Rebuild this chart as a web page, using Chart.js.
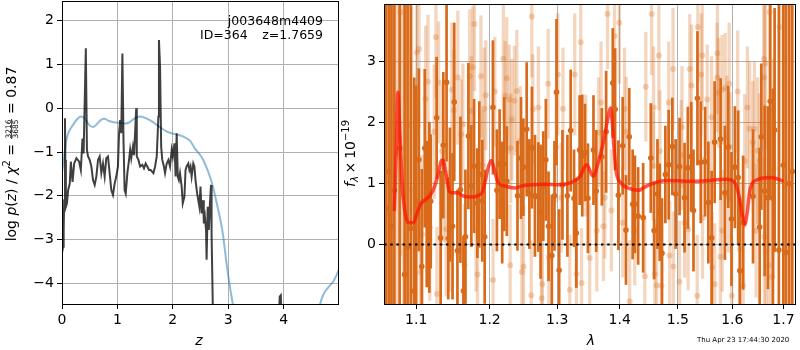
<!DOCTYPE html>
<html><head><meta charset="utf-8">
<script src="https://cdn.jsdelivr.net/npm/chart.js@4/dist/chart.umd.min.js"></script>
<style>
html,body{margin:0;padding:0;background:#fff;width:800px;height:350px;overflow:hidden}
canvas{position:absolute;top:0}
#c1{left:0}
#c2{left:340px}
</style></head><body>
<canvas id="c1" width="340" height="350"></canvas>
<canvas id="c2" width="460" height="350"></canvas>
<script>
// ---------- Left panel data: log p(z) (black) and scaled chi2 (blue) ----------
const zTicks = [0, 1, 2, 3, 4];
const pzTicks = [-4, -3, -2, -1, 0, 1, 2];
const blackZ = [0.00,0.02,0.03,0.04,0.054,0.06,0.07,0.09,0.11,0.14,0.16,0.19,0.22,0.26,0.31,0.34,0.37,0.39,0.43,0.45,0.47,0.50,0.53,0.56,0.59,0.62,0.65,0.68,0.71,0.74,0.77,0.80,0.83,0.86,0.89,0.92,0.95,0.98,1.01,1.03,1.05,1.07,1.09,1.11,1.13,1.15,1.18,1.21,1.23,1.25,1.28,1.30,1.34,1.35,1.38,1.41,1.45,1.48,1.51,1.54,1.57,1.60,1.65,1.68,1.71,1.74,1.75,1.77,1.79,1.81,1.84,1.86,1.89,1.92,1.95,1.98,2.00,2.03,2.05,2.07,2.09,2.11,2.13,2.16,2.18,2.21,2.23,2.25,2.28,2.30,2.32,2.34,2.37,2.39,2.41,2.44,2.46,2.48,2.50,2.52,2.55,2.56,2.58,2.60,2.61,2.63,2.65,2.67,2.69,2.70,2.72,2.74,2.85,3.20,3.70,3.90,3.93,3.95,3.97,4.20,4.60,5.00];
const blackLogP = [-3.30,-3.16,-2.78,-2.10,-0.23,-1.18,-2.25,-2.17,-1.87,-1.72,-1.22,-1.68,-1.26,-1.14,-1.22,-1.41,-0.69,-1.03,1.37,-0.95,-1.10,-1.18,-1.33,-1.64,-1.75,-1.56,-1.18,-1.10,-1.48,-1.26,-1.56,-1.14,-1.10,-1.48,-1.87,-1.98,-1.72,-1.56,-1.33,-0.57,-0.27,-0.57,1.25,-0.72,-1.87,-1.95,-1.48,-1.18,-0.95,-1.14,-0.88,-1.07,0.00,-1.10,-1.18,-1.33,-1.29,-1.37,-1.26,-1.33,-1.41,-1.41,-1.48,-1.33,-1.10,-0.19,1.56,0.95,-0.88,-1.18,-1.33,-1.48,-1.26,-1.18,-1.33,-0.95,-1.10,-0.80,-1.56,-0.57,-1.56,-1.64,-1.48,-1.79,-2.17,-2.02,-1.41,-1.33,-1.26,-1.41,-1.33,-1.56,-1.26,-1.33,-1.64,-1.95,-2.10,-2.25,-1.79,-2.40,-2.10,-2.63,-2.48,-2.78,-3.46,-2.25,-2.78,-2.17,-1.75,-2.86,-4.38,-5.50,-7.50,-9.00,-8.00,-5.20,-4.30,-4.27,-5.00,-8.50,-9.50,-9.50];
const blueZ = [0.00,0.02,0.05,0.08,0.13,0.20,0.28,0.35,0.42,0.49,0.56,0.63,0.70,0.76,0.85,0.93,1.03,1.13,1.20,1.30,1.41,1.50,1.60,1.71,1.80,1.89,1.98,2.07,2.16,2.24,2.31,2.40,2.49,2.55,2.63,2.70,2.76,2.82,2.87,2.91,2.97,3.03,3.08,3.15,3.40,3.80,4.20,4.50,4.62,4.66,4.72,4.80,4.90,4.96,5.00];
const blueVal = [-1.45,-1.30,-1.00,-0.72,-0.52,-0.38,-0.24,-0.19,-0.25,-0.38,-0.43,-0.36,-0.27,-0.24,-0.29,-0.32,-0.33,-0.35,-0.33,-0.24,-0.19,-0.22,-0.28,-0.38,-0.46,-0.53,-0.57,-0.60,-0.63,-0.68,-0.74,-0.92,-1.06,-1.18,-1.42,-1.68,-1.98,-2.32,-2.62,-2.93,-3.54,-4.07,-4.45,-5.00,-6.80,-7.80,-7.20,-5.80,-4.80,-4.47,-4.25,-4.10,-3.95,-3.80,-3.68];

// ---------- Right panel data: spectrum ----------
const lamTicks = [1.1, 1.2, 1.3, 1.4, 1.5, 1.6, 1.7];
const fluxTicks = [0, 1, 2, 3];
const darkLam = [1.0610,1.0647,1.0682,1.0719,1.0786,1.0850,1.0888,1.0930,1.0974,1.1000,1.1034,1.1073,1.1112,1.1138,1.1173,1.1191,1.1270,1.1323,1.1359,1.1403,1.1426,1.1449,1.1484,1.1507,1.1551,1.1592,1.1633,1.1661,1.1702,1.1743,1.1781,1.1827,1.1854,1.1896,1.1930,1.2047,1.2104,1.2143,1.2180,1.2209,1.2247,1.2403,1.2455,1.2490,1.2539,1.2579,1.2617,1.2662,1.2713,1.2747,1.2788,1.2827,1.2868,1.2918,1.2959,1.2990,1.3031,1.3082,1.3159,1.3210,1.3263,1.3299,1.3351,1.3393,1.3436,1.3483,1.3572,1.3616,1.3707,1.3777,1.3886,1.3924,1.3978,1.4050,1.4105,1.4160,1.4217,1.4255,1.4310,1.4395,1.4526,1.4583,1.4641,1.4681,1.4720,1.4779,1.4837,1.4902,1.4960,1.5030,1.5119,1.5178,1.5239,1.5280,1.5352,1.5412,1.5492,1.5552,1.5612,1.5668,1.5779,1.5860,1.5922,1.5984,1.6048,1.6111,1.6143,1.6206,1.6397,1.6527,1.6559,1.6625,1.6689,1.6735,1.6788,1.6822,1.6907,1.6997,1.7053,1.7117,1.7178];
const darkFlux = [0.60,1.20,0.30,0.89,1.58,-0.49,-0.04,0.27,-0.76,0.71,1.39,-0.36,1.58,0.50,0.61,0.71,2.08,0.11,1.63,2.66,0.10,0.82,0.30,2.34,-0.10,0.90,-0.76,0.13,1.78,0.96,1.29,0.68,1.15,0.72,0.13,2.25,0.89,1.32,0.69,1.32,1.04,0.80,1.42,1.27,1.89,0.83,1.59,0.80,0.78,0.54,0.96,1.39,0.30,-0.18,0.80,2.50,-0.42,0.98,0.80,1.87,0.76,0.19,1.55,1.46,1.51,0.76,1.55,0.88,1.44,1.85,2.65,2.22,0.81,1.62,0.24,1.77,0.66,0.66,0.47,0.44,1.42,0.23,0.83,0.53,-0.14,1.15,1.31,1.61,0.83,1.28,0.77,1.26,1.44,0.56,2.40,1.35,1.36,0.69,0.11,1.68,1.73,0.85,1.60,0.42,1.27,1.10,-0.43,0.36,0.79,0.29,1.77,0.88,0.77,2.35,0.76,1.88,-0.09,1.30,-0.13,1.00,1.20];
const darkErr = [6,6,6,6,5,5,5,4,3.5,1.9,1.5,1.6,1.3,1.2,1.4,1.1,1.0,1.1,1.2,1.3,1.0,1.1,1.2,1.3,1.0,1.2,0.9,1.1,1.2,1.0,1.1,0.9,1.2,1.0,1.1,1.1,1.0,0.9,1.0,1.1,0.9,0.9,1.0,0.8,1.1,0.9,1.0,1.0,0.9,1.1,0.9,1.0,0.9,1.0,0.9,1.2,1.0,0.9,1.0,1.0,0.8,0.9,0.9,1.0,0.8,0.9,0.9,1.0,0.8,1.0,0.9,1.0,0.9,0.8,0.9,0.8,0.9,0.8,0.8,0.9,0.9,0.8,0.9,0.8,0.9,0.8,0.9,0.8,0.9,0.8,0.9,1.0,0.9,1.0,1.1,1.0,0.9,1.0,1.1,1.0,1.0,1.1,1.0,1.1,1.0,1.1,1.2,1.1,1.1,1.3,1.2,1.4,1.5,1.6,1.8,2.0,5,6,6,6,6];
const lightLam = [1.0625,1.0660,1.0700,1.0750,1.0797,1.0835,1.0868,1.0902,1.0940,1.1008,1.1036,1.1055,1.1077,1.1123,1.1155,1.1178,1.1237,1.1260,1.1274,1.1296,1.1342,1.1364,1.1397,1.1442,1.1474,1.1501,1.1556,1.1603,1.1625,1.1648,1.1721,1.1740,1.1762,1.1785,1.1808,1.1830,1.1877,1.1899,1.1922,1.1945,1.2049,1.2074,1.2197,1.2222,1.2246,1.2281,1.2296,1.2305,1.2320,1.2359,1.2393,1.2444,1.2467,1.2493,1.2607,1.2615,1.2630,1.2714,1.2763,1.2774,1.2862,1.2873,1.2985,1.3011,1.3063,1.3090,1.3196,1.3274,1.3300,1.3369,1.3382,1.3448,1.3511,1.3626,1.3653,1.3694,1.3732,1.3757,1.3800,1.3863,1.3915,1.3994,1.4052,1.4079,1.4109,1.4166,1.4252,1.4424,1.4441,1.4540,1.4569,1.4574,1.4597,1.4626,1.4666,1.4683,1.4712,1.4838,1.4855,1.4914,1.4920,1.5029,1.5060,1.5073,1.5121,1.5183,1.5212,1.5244,1.5348,1.5359,1.5421,1.5440,1.5445,1.5531,1.5610,1.5623,1.5670,1.5714,1.5720,1.5744,1.5775,1.5806,1.5810,1.5866,1.5897,1.5927,1.5940,1.5958,1.5989,1.6101,1.6144,1.6206,1.6238,1.6288,1.6331,1.6393,1.6425,1.6457,1.6487,1.6519,1.6612,1.6615,1.6620,1.6644,1.6650,1.6706,1.6725,1.6768,1.6800,1.6925,1.7012];
const lightFlux = [1.00,0.50,2.00,1.50,3.81,0.80,2.42,1.96,0.90,3.15,3.21,-0.45,0.17,2.39,2.67,0.28,1.85,3.40,-0.81,2.66,1.53,1.04,0.25,0.23,2.54,2.20,2.74,1.81,1.97,-0.33,2.76,2.19,2.91,3.62,0.23,-0.49,2.76,1.30,2.23,2.45,-0.58,2.51,3.05,2.44,2.73,2.38,-0.34,1.58,2.05,2.36,2.52,1.70,-0.45,-0.36,-0.83,3.74,2.22,2.25,-0.88,-0.65,2.64,-0.21,1.60,2.79,0.77,2.23,-0.74,2.79,-0.48,3.32,-0.63,1.46,-0.22,0.23,1.84,2.33,0.30,0.77,3.78,0.56,3.42,3.64,0.36,2.23,1.85,-0.93,0.23,-0.52,2.59,3.78,1.29,2.25,-0.48,-0.67,3.10,1.53,-0.67,2.33,-0.18,2.88,-0.36,-0.61,1.47,1.93,0.36,0.25,2.88,2.61,-0.84,3.57,2.79,3.10,0.44,2.38,2.09,-0.37,-0.65,2.74,3.14,2.49,-0.20,2.54,0.23,2.57,1.77,0.77,2.64,1.60,-0.84,2.51,-0.07,-0.67,1.37,2.25,1.90,1.68,1.90,0.23,1.54,1.38,3.05,2.74,0.13,2.97,-0.12,-0.34,3.81,-0.53,1.25,3.57,1.32];
const lightErr = [6,6,6,5,4,4,3.5,3,3,1.4,1.3,1.2,1.3,1.2,1.1,1.2,1.1,1.0,1.1,1.0,1.1,1.0,1.1,1.0,1.1,1.0,1.1,0.9,1.0,1.0,1.1,0.9,1.0,1.1,1.0,0.9,1.0,0.9,1.0,0.9,1.0,0.9,1.0,0.9,1.0,0.9,1.0,0.9,1.0,0.9,1.0,0.9,0.9,1.0,0.9,1.0,0.9,1.0,0.9,1.0,0.9,1.0,0.9,1.0,0.9,1.0,0.9,1.0,0.9,1.0,0.9,1.0,0.9,1.0,0.9,1.0,0.9,1.0,0.9,1.0,0.9,1.0,0.9,1.0,0.9,1.0,0.9,1.0,0.9,1.0,0.9,1.0,0.9,1.0,0.9,1.0,0.9,1.0,0.9,1.0,0.9,1.0,0.9,1.0,0.9,1.0,0.9,1.0,1.0,0.9,1.0,0.9,1.0,0.9,1.0,0.9,1.0,0.9,1.0,0.9,1.0,0.9,1.0,0.9,1.0,0.9,1.0,0.9,1.0,1.0,1.1,1.0,1.1,1.0,1.1,1.0,1.1,1.1,1.2,1.1,1.3,1.2,1.3,1.4,1.3,1.4,1.6,1.5,1.8,2.5,3];
const modelLam = [1.0718,1.0745,1.0763,1.0790,1.0819,1.0859,1.0905,1.0966,1.1007,1.1055,1.1123,1.1191,1.1236,1.1282,1.1328,1.1350,1.1397,1.1442,1.1488,1.1556,1.1625,1.1740,1.1830,1.1899,1.1945,1.1977,1.2024,1.2074,1.2123,1.2222,1.2370,1.2467,1.2615,1.2814,1.3010,1.3220,1.3352,1.3463,1.3568,1.3653,1.3732,1.3811,1.3847,1.3874,1.3905,1.3942,1.4022,1.4138,1.4310,1.4453,1.4655,1.4828,1.5335,1.5888,1.6031,1.6125,1.6187,1.6237,1.6280,1.6344,1.6500,1.6749,1.7000];
const modelFlux = [0.55,1.60,2.50,1.80,0.99,0.50,0.36,0.36,0.50,0.66,0.74,0.82,0.93,1.11,1.36,1.39,1.15,0.87,0.85,0.85,0.80,0.78,0.80,0.87,1.08,1.25,1.38,1.20,1.01,0.96,0.93,0.96,0.98,0.99,0.98,1.02,1.11,1.31,1.12,1.36,1.68,2.10,2.24,2.05,1.60,1.20,1.01,0.93,0.89,0.96,1.03,1.05,1.04,1.07,1.03,0.81,0.50,0.33,0.50,0.93,1.07,1.10,1.04];
const zeroLevel = 0;

// ---------- helpers ----------
const FF = '"DejaVu Sans"';
Chart.defaults.font.family = FF;
Chart.defaults.font.size = 14;
Chart.defaults.color = '#000';
const fmt = v => (v < 0 ? '\u2212' + Math.abs(v) : String(v));
const darkC = 'rgb(216,106,26)';
const lightC = 'rgba(216,106,26,0.28)';

function partWidth(ctx, p) {
  ctx.font = p.f;
  if (p.frac) return Math.max(ctx.measureText(p.frac[0]).width, ctx.measureText(p.frac[1]).width) + 2;
  return ctx.measureText(p.t).width;
}
function drawRich(ctx, parts, cx, cy, rot) {
  ctx.save();
  ctx.translate(cx, cy); ctx.rotate(rot);
  let W = 0; for (const p of parts) W += partWidth(ctx, p);
  let x = -W / 2;
  ctx.fillStyle = '#000'; ctx.textBaseline = 'alphabetic';
  for (const p of parts) {
    const w = partWidth(ctx, p);
    ctx.font = p.f;
    if (p.frac) {
      ctx.textAlign = 'center';
      ctx.fillText(p.frac[0], x + w / 2, p.num);
      ctx.fillText(p.frac[1], x + w / 2, p.den);
      ctx.fillRect(x + 0.5, p.bar, w - 1, 0.8);
    } else {
      ctx.textAlign = 'left';
      ctx.fillText(p.t, x, p.dy || 0);
    }
    x += w;
  }
  ctx.restore();
}
function drawFrame(chart) {
  const {ctx, chartArea: a} = chart;
  ctx.save(); ctx.strokeStyle = '#000'; ctx.lineWidth = 1;
  ctx.strokeRect(Math.round(a.left) + 0.5, Math.round(a.top) + 0.5, Math.round(a.right - a.left) - 1, Math.round(a.bottom - a.top));
  ctx.restore();
}
function fitX(s) { s.height = 46; s.paddingLeft = 0; s.paddingRight = 0; }
function fitY(w) { return s => { s.width = w; s.paddingTop = 0; s.paddingBottom = 0; }; }
function axisOpts(extra) {
  return Object.assign({
    z: 1,
    grid: {color: '#b0b0b0', lineWidth: 1, tickColor: '#000', tickLength: 5, offset: false},
    border: {display: false}
  }, extra);
}
const tickFont = {size: 14, family: FF};

// ---------- left chart ----------
const leftPlugin = {
  id: 'leftText',
  afterDraw(chart) {
    const ctx = chart.ctx;
    drawFrame(chart);
    ctx.save();
    ctx.fillStyle = '#000';
    ctx.font = '12.5px ' + FF; ctx.textBaseline = 'alphabetic';
    ctx.textAlign = 'right';
    ctx.fillText('j003648m4409', 323, 24.5);
    ctx.fillText('z=1.7659', 323, 38.5);
    ctx.textAlign = 'left';
    ctx.fillText('ID=364', 200, 38.5);
    ctx.textAlign = 'center';
    ctx.font = 'italic 14px ' + FF;
    ctx.fillText('z', 199, 345);
    ctx.restore();
    const N = '14px ' + FF, I = 'italic 14px ' + FF;
    drawRich(ctx, [
      {t: 'log ', f: N}, {t: 'p', f: I}, {t: '(', f: N}, {t: 'z', f: I}, {t: ') / ', f: N},
      {t: '\u03c7', f: I}, {t: '2', f: '10px ' + FF, dy: -6}, {t: ' = ', f: N},
      {frac: ['3216', '3685'], f: '7.5px ' + FF, num: -4.8, den: 2.8, bar: -4.2},
      {t: ' = 0.87', f: N}
    ], 15.5, 154, -Math.PI / 2);
  }
};
new Chart(document.getElementById('c1'), {
  type: 'line',
  data: {datasets: [
    {data: blackZ.map((z, i) => ({x: z, y: blackLogP[i]})), borderColor: 'rgba(0,0,0,0.75)', borderWidth: 2, pointRadius: 0, tension: 0, clip: 0},
    {data: blueZ.map((z, i) => ({x: z, y: blueVal[i]})), borderColor: 'rgba(31,119,180,0.5)', borderWidth: 2, pointRadius: 0, cubicInterpolationMode: 'monotone', clip: 0}
  ]},
  options: {
    responsive: false, animation: false, devicePixelRatio: 1,
    layout: {padding: {left: 0, top: 1, right: 1, bottom: 0}},
    plugins: {legend: {display: false}, tooltip: {enabled: false}},
    scales: {
      x: axisOpts({type: 'linear', min: 0, max: 5,
        afterBuildTicks: s => { s.ticks = zTicks.map(v => ({value: v})); },
        afterFit: fitX,
        ticks: {padding: 3, color: '#000', font: tickFont, maxRotation: 0, autoSkip: false, callback: v => fmt(v)}}),
      y: axisOpts({type: 'linear', min: -4.47, max: 2.45,
        afterBuildTicks: s => { s.ticks = pzTicks.map(v => ({value: v})); },
        afterFit: fitY(62),
        ticks: {padding: 3, color: '#000', font: tickFont, autoSkip: false, callback: v => fmt(v)}})
    }
  },
  plugins: [leftPlugin]
});

// ---------- right chart ----------
const lamMin = 1.0588, lamMax = 1.7254;
const rightPlugin = {
  id: 'rightText',
  afterDraw(chart) {
    const ctx = chart.ctx;
    drawFrame(chart);
    ctx.save();
    ctx.fillStyle = '#000'; ctx.textBaseline = 'alphabetic'; ctx.textAlign = 'center';
    ctx.font = 'italic 14px ' + FF;
    ctx.fillText('\u03bb', 251, 345);
    ctx.textAlign = 'left';
    ctx.font = '7px ' + FF;
    ctx.fillText('Thu Apr 23 17:44:30 2020', 357, 341.5);
    ctx.restore();
    const N = '14px ' + FF, I = 'italic 14px ' + FF;
    drawRich(ctx, [
      {t: 'f', f: I}, {t: '\u03bb', f: 'italic 10px ' + FF, dy: 3},
      {t: '\u2009\u00d7\u200910', f: N}, {t: '\u221219', f: '10px ' + FF, dy: -6}
    ], 15, 153.5, -Math.PI / 2);
  }
};
new Chart(document.getElementById('c2'), {
  type: 'scatter',
  data: {datasets: [
    {type: 'line', data: modelLam.map((l, i) => ({x: l, y: modelFlux[i]})), borderColor: 'rgba(255,20,0,0.72)', borderWidth: 3.5, pointRadius: 0, cubicInterpolationMode: 'monotone', clip: 0},
    {type: 'line', data: [{x: lamMin, y: zeroLevel}, {x: lamMax, y: zeroLevel}], borderColor: '#000', borderWidth: 2, borderDash: [2.5, 3.7], pointRadius: 0, clip: 0},
    {type: 'scatter', data: darkLam.map((l, i) => ({x: l, y: darkFlux[i]})), pointRadius: 2.8, pointBackgroundColor: darkC, pointBorderWidth: 0, clip: 0},
    {type: 'bar', data: darkLam.map((l, i) => ({x: l, y: [darkFlux[i] - darkErr[i], darkFlux[i] + darkErr[i]]})), backgroundColor: darkC, barThickness: 2.7, grouped: false, borderWidth: 0, inflateAmount: 0, clip: 0},
    {type: 'scatter', data: lightLam.map((l, i) => ({x: l, y: lightFlux[i]})), pointRadius: 3, pointBackgroundColor: lightC, pointBorderWidth: 0, clip: 0},
    {type: 'bar', data: lightLam.map((l, i) => ({x: l, y: [lightFlux[i] - lightErr[i], lightFlux[i] + lightErr[i]]})), backgroundColor: lightC, barThickness: 3.3, grouped: false, borderWidth: 0, inflateAmount: 0, clip: 0}
  ]},
  options: {
    responsive: false, animation: false, devicePixelRatio: 1,
    layout: {padding: {left: 0, top: 1, right: 1, bottom: 0}},
    plugins: {legend: {display: false}, tooltip: {enabled: false}},
    scales: {
      x: axisOpts({type: 'logarithmic', min: lamMin, max: lamMax, offset: false,
        afterBuildTicks: s => { s.ticks = lamTicks.map(v => ({value: v})); },
        afterFit: fitX,
        ticks: {padding: 3, color: '#000', font: tickFont, maxRotation: 0, autoSkip: false, callback: v => Number(v).toFixed(1)}}),
      y: axisOpts({type: 'linear', min: -0.974, max: 3.946,
        afterBuildTicks: s => { s.ticks = fluxTicks.map(v => ({value: v})); },
        afterFit: fitY(44),
        ticks: {padding: 3, color: '#000', font: tickFont, autoSkip: false, callback: v => fmt(v)}})
    }
  },
  plugins: [rightPlugin]
});
</script>
</body></html>
